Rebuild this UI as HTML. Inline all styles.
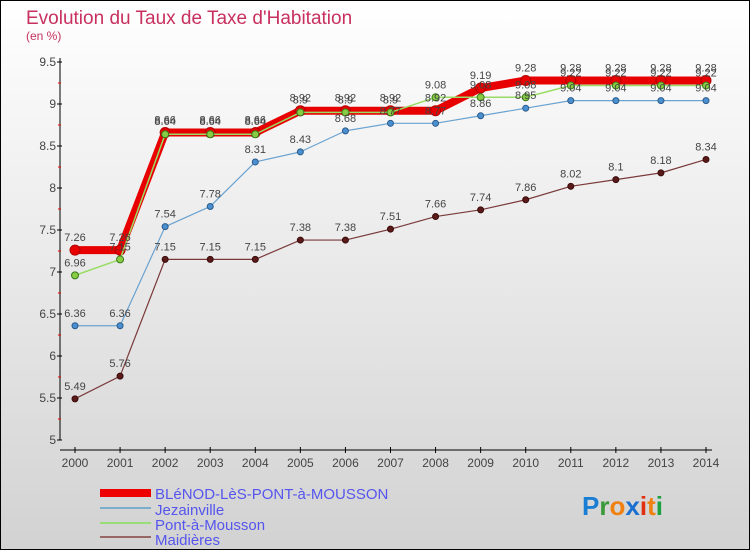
<!DOCTYPE html>
<html><head><meta charset="utf-8"><style>
html,body{margin:0;padding:0}
body{width:750px;height:550px;overflow:hidden;font-family:"Liberation Sans",sans-serif}
svg text{font-family:"Liberation Sans",sans-serif}
</style></head><body>
<svg id="c" width="750" height="550" xmlns="http://www.w3.org/2000/svg">
<defs><linearGradient id="bg" x1="0" y1="0" x2="0" y2="1"><stop offset="0" stop-color="#ffffff"/><stop offset="1" stop-color="#d2d2d2"/></linearGradient></defs>
<rect x="0.5" y="0.5" width="749" height="549" fill="url(#bg)" stroke="#000"/>
<text x="26" y="24" font-size="19" fill="#c8305f">Evolution du Taux de Taxe d'Habitation</text>
<text x="26" y="40" font-size="12" fill="#c8305f">(en %)</text>
<g id="axes"></g><g id="series"></g><g id="labels"></g>
<g>
<rect x="100" y="489" width="51" height="8" fill="#e00"/>
<text x="155" y="499" font-size="15" fill="#5555ee">BLéNOD-LèS-PONT-à-MOUSSON</text>
<rect x="100" y="507" width="51" height="2" fill="#7aaecc"/>
<text x="155" y="515" font-size="15" fill="#5555ee">Jezainville</text>
<rect x="100" y="522" width="51" height="2" fill="#99dd77"/>
<text x="155" y="530" font-size="15" fill="#5555ee">Pont-à-Mousson</text>
<rect x="100" y="536" width="51" height="2" fill="#996666"/>
<text x="155" y="545" font-size="15" fill="#5555ee">Maidières</text>
</g>
<g font-size="26" font-weight="bold">
<text x="582" y="515"><tspan fill="#1a7fd4">P</tspan><tspan fill="#3a9a3a">r</tspan><tspan fill="#f08010">o</tspan><tspan fill="#1a6fd0">x</tspan><tspan fill="#e03010">i</tspan><tspan fill="#f08010">t</tspan><tspan fill="#20a040">i</tspan></text>
</g>
</svg>
<script>
const years=[2000,2001,2002,2003,2004,2005,2006,2007,2008,2009,2010,2011,2012,2013,2014];
const yTicks=[5,5.5,6,6.5,7,7.5,8,8.5,9,9.5];
const blenod=[7.26,7.26,8.66,8.66,8.66,8.92,8.92,8.92,8.92,9.19,9.28,9.28,9.28,9.28,9.28];
const jezainville=[6.36,6.36,7.54,7.78,8.31,8.43,8.68,8.77,8.77,8.86,8.95,9.04,9.04,9.04,9.04];
const pont=[6.96,7.15,8.64,8.64,8.64,8.9,8.9,8.9,9.08,9.08,9.08,9.22,9.22,9.22,9.22];
const maidieres=[5.49,5.76,7.15,7.15,7.15,7.38,7.38,7.51,7.66,7.74,7.86,8.02,8.1,8.18,8.34];
const NS="http://www.w3.org/2000/svg";
const X=i=>75+i*(631/14);
const Y=v=>440-(v-5)*84;
function mk(p,t,a){const e=document.createElementNS(NS,t);for(const k in a)e.setAttribute(k,a[k]);p.appendChild(e);return e;}
const ax=document.getElementById('axes');
let e=mk(ax,'line',{x1:60,y1:58,x2:60,y2:440,stroke:'#000'});


e=mk(ax,'line',{x1:60,y1:450,x2:712,y2:450,stroke:'#000'});


yTicks.forEach((v,i)=>{
 mk(ax,'line',{x1:57,y1:Y(v),x2:62,y2:Y(v),stroke:'#000'});
 if(i<yTicks.length-1)mk(ax,'line',{x1:58,y1:Y(v+0.25),x2:61,y2:Y(v+0.25),stroke:'#e00'});
 const t=mk(ax,'text',{x:56,y:Y(v)+4,'font-size':12,fill:'#444','text-anchor':'end'});
 t.textContent=String(v);
 
 
});
years.forEach((y,i)=>{
 mk(ax,'line',{x1:X(i),y1:447,x2:X(i),y2:453,stroke:'#000'});
 const t=mk(ax,'text',{x:X(i),y:467,'font-size':12,fill:'#444','text-anchor':'middle'});
 t.textContent=String(y);
 
 
});
const sg=document.getElementById('series'),lg=document.getElementById('labels');
function series(d,name,col,w,dot,dotStroke,r){
 const pts=d.map((v,i)=>X(i)+','+Y(v)).join(' ');
 const p=mk(sg,'polyline',{points:pts,fill:'none',stroke:col,'stroke-width':w,'stroke-linejoin':'round'});
 
 
 d.forEach((v,i)=>{
  const c=mk(sg,'circle',{cx:X(i),cy:Y(v),r:r,fill:dot,stroke:dotStroke,'stroke-width':1});
  
  
  const t=mk(lg,'text',{x:X(i),y:Y(v)-9,'font-size':11,fill:'#444','text-anchor':'middle'});
  t.textContent=String(v);
  
  
 });
}
series(maidieres,'maidieres','#7a3a3a',1.2,'#5a1a1a','#3a0a0a',3);
series(jezainville,'jezainville','#6aa2d0',1.2,'#4a90d0','#2a5a8a',3);
series(blenod,'blenod','#e80000',8,'#e80000','#b00000',5);
series(pont,'pont','#99dd66',1.5,'#88cc44','#3a7a1a',3.5);
</script>
</body></html>
